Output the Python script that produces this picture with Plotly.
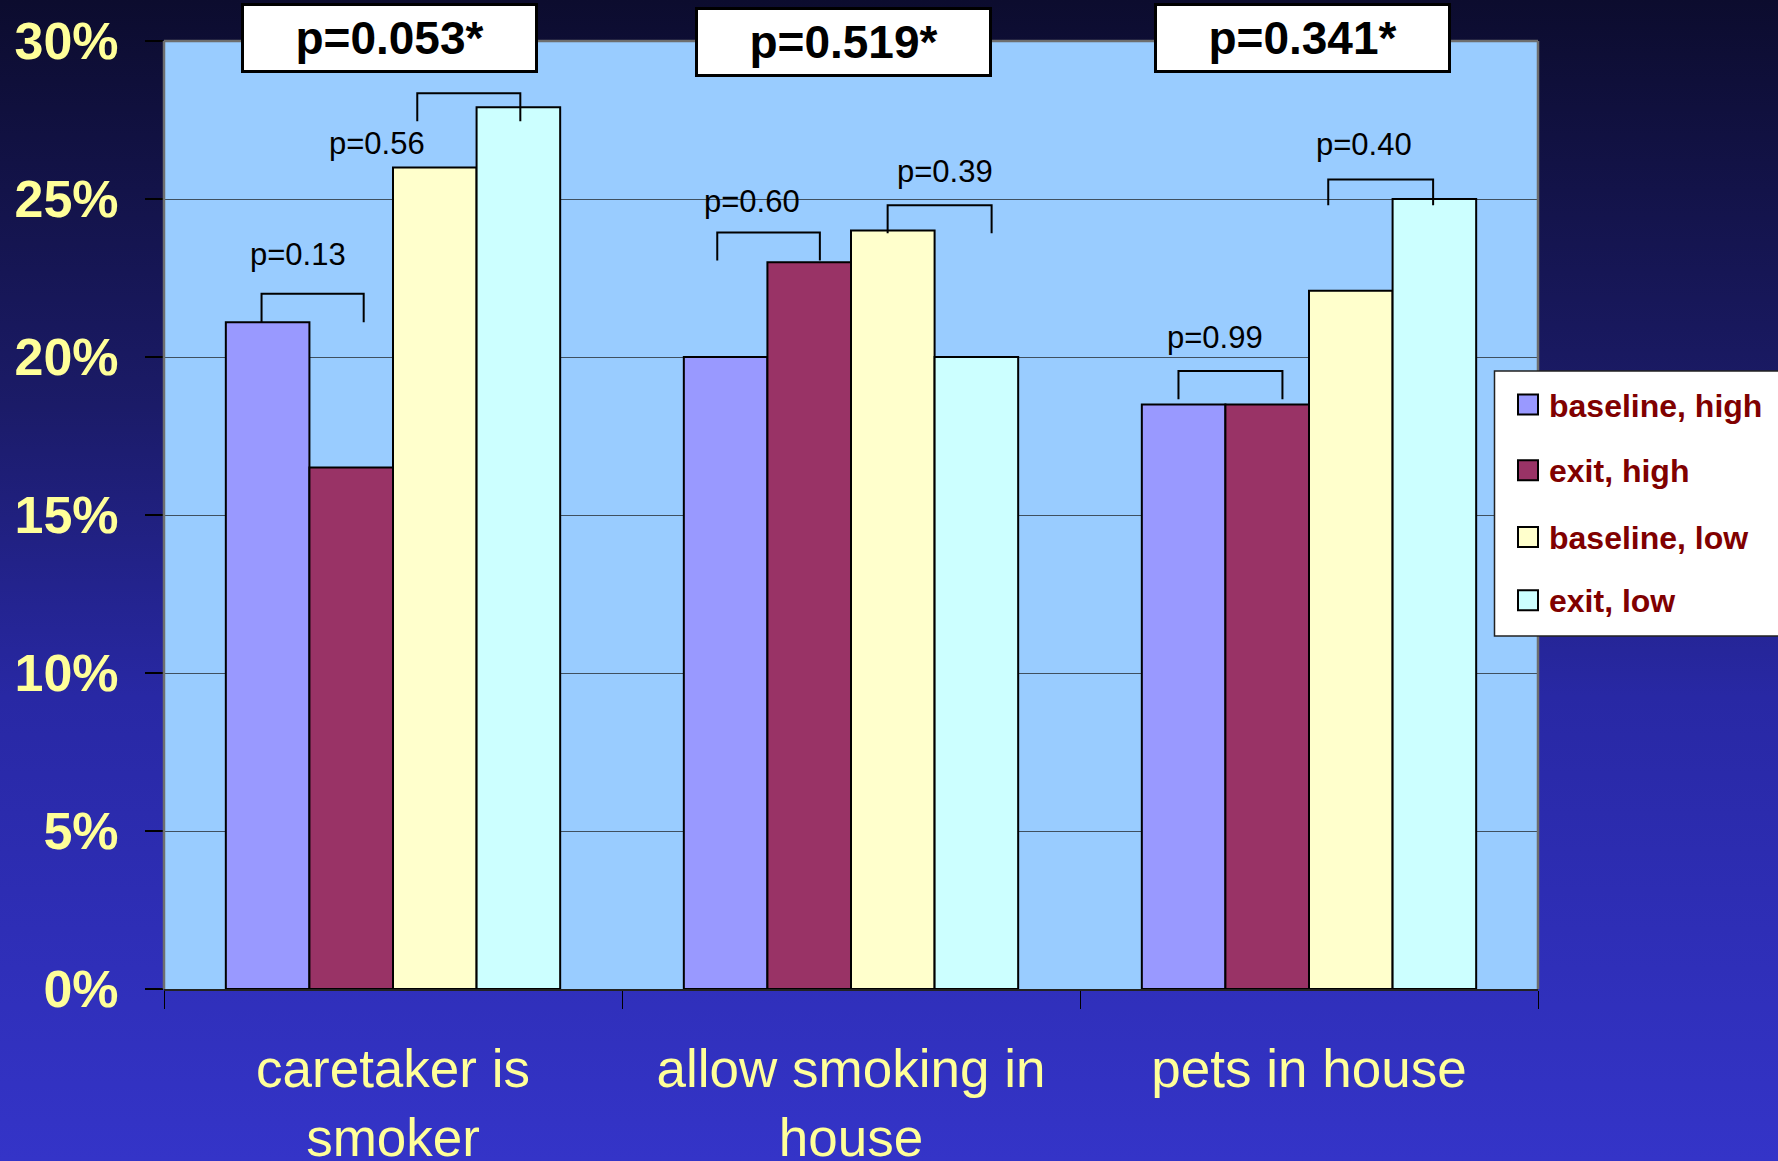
import base64
import plotly.graph_objects as go

# ---- data -------------------------------------------------------------
categories = ["caretaker is<br>smoker", "allow smoking in<br>house", "pets in house"]
series_names = ["baseline, high", "exit, high", "baseline, low", "exit, low"]
baseline_high = [21.1, 20.0, 18.5]
exit_high = [16.5, 23.0, 18.5]
baseline_low = [26.0, 24.0, 22.1]
exit_low = [27.9, 20.0, 25.0]
y_ticks = [0, 5, 10, 15, 20, 25, 30]
y_tick_labels = [f"{v}%" for v in y_ticks]
overall_p = ["p=0.053*", "p=0.519*", "p=0.341*"]
pair_p = [["p=0.13", "p=0.56"], ["p=0.60", "p=0.39"], ["p=0.99", "p=0.40"]]

# ---- styling ----------------------------------------------------------
series_colors = ["#9999ff", "#993366", "#ffffcc", "#ccffff"]
tick_yellow = "#ffff99"
legend_red = "#800000"
FONT = "Liberation Sans, Arial, sans-serif"

W, H = 1778, 1161
M_L, M_R, M_T, M_B = 164, 240, 41, 172
PW, PH = W - M_L - M_R, H - M_T - M_B


def px_x(px):
    return (px - M_L) / PW


def px_y(py):
    return (H - M_B - py) / PH


# bracket geometry per category: (left offset, right offset, top, foot)
# and label placement (x offset, y) in axis units
bracket_geom = [
    [(-0.287, -0.064, 22.0, 21.1, (-0.208, 23.25)),
     (0.053, 0.278, 28.35, 27.46, (-0.036, 26.75))],
    [(-0.292, -0.068, 23.94, 23.05, (-0.216, 24.93)),
     (0.080, 0.307, 24.80, 23.92, (0.205, 25.87))],
    [(-0.285, -0.058, 19.56, 18.66, (-0.205, 20.61)),
     (0.042, 0.271, 25.62, 24.80, (0.119, 26.74))],
]
# headline boxes: (x offset in category units, vertical centre in pixels)
headline_pos = [(-0.007, 38.0), (-0.016, 42.3), (-0.014, 37.7)]

fig = go.Figure()

values = [baseline_high, exit_high, baseline_low, exit_low]
for name, vals, col in zip(series_names, values, series_colors):
    fig.add_trace(go.Bar(
        x=categories, y=vals, name=name,
        marker=dict(color=col, line=dict(color="black", width=2)),
        showlegend=False,
    ))

shapes = []
annotations = []

# page background gradient
svg = (
    '<svg xmlns="http://www.w3.org/2000/svg" width="100" height="100" preserveAspectRatio="none">'
    '<defs><linearGradient id="g" x1="0" y1="0" x2="0" y2="1">'
    '<stop offset="0" stop-color="#0c0c2e"/>'
    '<stop offset="0.35" stop-color="#1b1b68"/>'
    '<stop offset="0.6" stop-color="#2828a4"/>'
    '<stop offset="1" stop-color="#3434c8"/>'
    '</linearGradient></defs>'
    '<rect width="100" height="100" fill="url(#g)"/></svg>'
)
bg_src = "data:image/svg+xml;base64," + base64.b64encode(svg.encode()).decode()

# light-blue plot area drawn on top of the gradient image
shapes.append(dict(type="rect", xref="paper", yref="paper", x0=0, x1=1, y0=0, y1=1,
                   fillcolor="#99ccff", line=dict(width=0), layer="below"))

# grey frame on top / left / right of the plot area
frame = dict(type="line", xref="paper", yref="paper", line=dict(color="#6e6e6e", width=2.5))
shapes.append({**frame, "x0": 0, "x1": 1, "y0": 1, "y1": 1})
shapes.append({**frame, "x0": 1, "x1": 1, "y0": 0, "y1": 1})
shapes.append({**frame, "x0": 0, "x1": 0, "y0": 0, "y1": 1})

# pairwise brackets and p labels
for ci, (geom, texts) in enumerate(zip(bracket_geom, pair_p)):
    for (x0, x1, top, foot, (lx, ly)), txt in zip(geom, texts):
        shapes.append(dict(
            type="path", xref="x", yref="y",
            path=f"M {ci + x0},{foot} L {ci + x0},{top} L {ci + x1},{top} L {ci + x1},{foot}",
            line=dict(color="black", width=2),
        ))
        annotations.append(dict(
            x=ci + lx, y=ly, xref="x", yref="y", text=txt, showarrow=False,
            font=dict(family=FONT, size=31, color="black"),
            xanchor="center", yanchor="middle",
        ))

# overall p-value boxes
for ci, (txt, (ox, oy)) in enumerate(zip(overall_p, headline_pos)):
    annotations.append(dict(
        x=ci + ox, y=px_y(oy), xref="x", yref="paper", text=f"<b>{txt}</b>", showarrow=False,
        font=dict(family=FONT, size=46, color="black"),
        bgcolor="white", bordercolor="black", borderwidth=3, borderpad=0,
        width=291, height=64, align="center", valign="middle",
        xanchor="center", yanchor="middle",
    ))

# legend box
shapes.append(dict(type="rect", xref="paper", yref="paper",
                   x0=px_x(1494.5), x1=px_x(1800), y0=px_y(636), y1=px_y(371),
                   fillcolor="white", line=dict(color="#222222", width=1.5),
                   layer="above"))
item_centers = [404.6, 470.3, 537.0, 600.3]
for name, col, cy in zip(series_names, series_colors, item_centers):
    shapes.append(dict(type="rect", xref="paper", yref="paper",
                       x0=px_x(1518), x1=px_x(1538), y0=px_y(cy + 10), y1=px_y(cy - 10),
                       fillcolor=col, line=dict(color="black", width=2), layer="above"))
    annotations.append(dict(
        x=px_x(1547), y=px_y(cy + 1), xref="paper", yref="paper",
        text=f"<b>{name}</b>", showarrow=False, xanchor="left", yanchor="middle",
        font=dict(family=FONT, size=32, color=legend_red),
    ))

fig.update_layout(
    width=W, height=H,
    margin=dict(l=M_L, r=M_R, t=M_T, b=M_B, autoexpand=False),
    paper_bgcolor="#1b1b68",
    plot_bgcolor="#99ccff",
    barmode="group", bargap=0.27, bargroupgap=0,
    shapes=shapes, annotations=annotations,
    images=[dict(source=bg_src, xref="paper", yref="paper", x=-M_L / PW, y=1 + M_T / PH,
                 sizex=W / PW, sizey=H / PH, sizing="stretch", layer="below",
                 xanchor="left", yanchor="top")],
    showlegend=False,
    xaxis=dict(
        type="category", tickson="boundaries", ticks="outside", ticklen=18,
        tickcolor="black", tickwidth=1.2, showline=True, linecolor="#222222", linewidth=2,
        tickfont=dict(family=FONT, size=53, color=tick_yellow),
        ticklabelstandoff=32, showgrid=False,
    ),
    yaxis=dict(
        range=[0, 30], tickmode="array", tickvals=y_ticks, ticktext=y_tick_labels,
        ticks="outside", ticklen=18,
        tickcolor="black", tickwidth=1.5, showline=False,
        showgrid=True, gridcolor="#3f5060", gridwidth=1.3, zeroline=False,
        tickfont=dict(family=FONT, size=52, color=tick_yellow, weight="bold"),
        ticklabelstandoff=16,
    ),
)

fig.write_html("out.html")
